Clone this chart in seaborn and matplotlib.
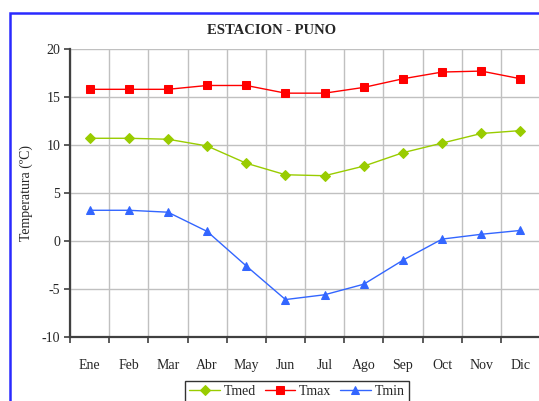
import pandas as pd
import numpy as np
import matplotlib
matplotlib.use('Agg')
import matplotlib.pyplot as plt
import seaborn as sns
from matplotlib.patches import Rectangle

meses = ['Ene', 'Feb', 'Mar', 'Abr', 'May', 'Jun', 'Jul', 'Ago', 'Sep', 'Oct', 'Nov', 'Dic']
tmed = [10.7, 10.7, 10.6, 9.9, 8.1, 6.9, 6.8, 7.8, 9.2, 10.2, 11.2, 11.5]
tmax = [15.8, 15.8, 15.8, 16.2, 16.2, 15.4, 15.4, 16.0, 16.9, 17.6, 17.7, 16.9]
tmin = [3.2, 3.2, 3.0, 1.0, -2.6, -6.1, -5.6, -4.5, -2.0, 0.2, 0.7, 1.1]

series = ['Tmed', 'Tmax', 'Tmin']
colores = {'Tmed': '#99cc00', 'Tmax': '#ff0000', 'Tmin': '#3366ff'}
marcadores = {'Tmed': 'D', 'Tmax': 's', 'Tmin': '^'}
tamanos = {'Tmed': 4.8, 'Tmax': 5.5, 'Tmin': 6}

df = pd.DataFrame({
    'mes': list(range(12)) * 3,
    'temp': tmed + tmax + tmin,
    'serie': ['Tmed'] * 12 + ['Tmax'] * 12 + ['Tmin'] * 12,
})

sns.set_style('white')
plt.rcParams['font.family'] = ['Liberation Serif', 'DejaVu Serif']
plt.rcParams['axes.unicode_minus'] = False

fig = plt.figure(figsize=(5.39, 4.01), dpi=100)
ax = fig.add_axes([70 / 539, 1 - 337 / 401, 1 - 70 / 539 + 0.002, (337 - 49) / 401])

for s in series:
    sns.lineplot(data=df[df['serie'] == s], x='mes', y='temp', color=colores[s],
                 marker=marcadores[s], markersize=tamanos[s], markeredgecolor=colores[s],
                 linewidth=1.0, label=s, ax=ax)

ax.set_xlim(-0.5, 11.5)
ax.set_ylim(-10, 20)
ax.set_yticks(np.arange(-10, 21, 5))
ax.set_xticks(np.arange(-0.5, 12, 1))
ax.set_xticklabels([])
ax.set_xticks(np.arange(12), minor=True)
ax.set_xticklabels(meses, minor=True)
ax.tick_params(axis='x', which='major', length=4, width=1.2, color='#404040', direction='out', bottom=True)
ax.tick_params(axis='x', which='minor', length=0, pad=16, labelsize=10)
ax.tick_params(axis='y', length=4, width=1.2, color='#404040', direction='out', left=True,
               labelsize=10, pad=3)
ax.grid(True, which='major', color='#c0c0c0', linewidth=1)
ax.set_axisbelow(True)

for lado in ['top', 'right']:
    ax.spines[lado].set_visible(False)
for lado in ['left', 'bottom']:
    ax.spines[lado].set_color('#404040')
    ax.spines[lado].set_linewidth(1.6)

ax.set_xlabel('')
ax.set_ylabel('Temperatura (ºC)', fontsize=10, labelpad=6)

fig.text(272 / 539, 1 - 30 / 401, 'ESTACION - PUNO', ha='center', va='center',
         fontsize=10.5, fontweight='bold')

ax.legend(loc='upper center', bbox_to_anchor=(297 / 539, 1 - 381 / 401),
          bbox_transform=fig.transFigure, ncol=3, frameon=True, fancybox=False,
          edgecolor='black', fontsize=10, handlelength=2.2, columnspacing=0.6,
          handletextpad=0.3, borderaxespad=0, borderpad=0.3)

fig.patches.append(Rectangle((10 / 539, -0.1), 1.2, 1 - 13 / 401 + 0.1, transform=fig.transFigure,
                             fill=False, edgecolor='#2a2aff', linewidth=1.8, zorder=10))

fig.savefig('out.png', dpi=100)
